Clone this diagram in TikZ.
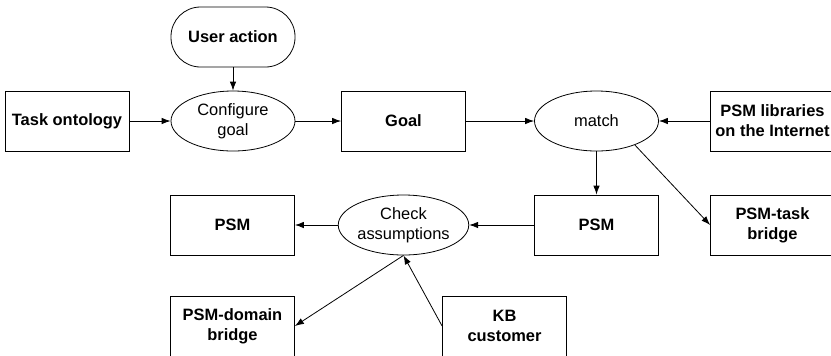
\documentclass[tikz,border=0pt]{standalone}
\usepackage{fontspec}
\setmainfont{Liberation Sans}
\usetikzlibrary{shapes.geometric,arrows.meta}
\begin{document}
\begin{tikzpicture}[x=1bp,y=-1bp,
  every node/.style={font=\fontsize{16.5}{20}\selectfont, align=center, inner sep=0pt},
  boxn/.style={draw, line width=0.8bp, minimum width=124bp, minimum height=60bp, font=\fontsize{16.5}{20}\selectfont\bfseries},
  elln/.style={draw, ellipse, line width=0.8bp, minimum width=124bp, minimum height=60bp},
  stad/.style={draw, line width=0.8bp, rounded corners=29.5bp, minimum width=124bp, minimum height=60bp, font=\fontsize{16.5}{20}\selectfont\bfseries},
  arr/.style={-{Latex[length=9bp,width=6.5bp]}, line width=0.8bp}]
\useasboundingbox (0,0) rectangle (831,355);
\node[stad] (user) at (233,37) {User action};
\node[elln] (conf) at (233,121) {Configure\\goal};
\node[boxn] (task) at (67,121) {Task ontology};
\node[boxn] (goal) at (403.5,121) {Goal};
\node[elln] (match) at (596.5,121) {match};
\node[boxn] (lib) at (772.5,121) {PSM libraries\\on the Internet};
\node[boxn] (psmm) at (596.5,225) {PSM};
\node[boxn] (ptb) at (772.5,225) {PSM-task\\bridge};
\node[elln] (check) at (403.5,225) {Check\\assumptions};
\node[boxn] (psml) at (232.5,225) {PSM};
\node[boxn] (pdb) at (232.5,326) {PSM-domain\\bridge};
\node[boxn] (kb) at (504.5,326) {KB\\customer};
\draw[arr] (user) -- (conf);
\draw[arr] (task) -- (conf);
\draw[arr] (conf) -- (goal);
\draw[arr] (goal) -- (match);
\draw[arr] (lib) -- (match);
\draw[arr] (match) -- (psmm);
\draw[arr] (match.-32) -- (ptb.west);
\draw[arr] (psmm) -- (check);
\draw[arr] (check) -- (psml);
\draw[arr] (check.south) -- (pdb.east);
\draw[arr] (kb.west) -- (check.south);
\end{tikzpicture}
\end{document}
